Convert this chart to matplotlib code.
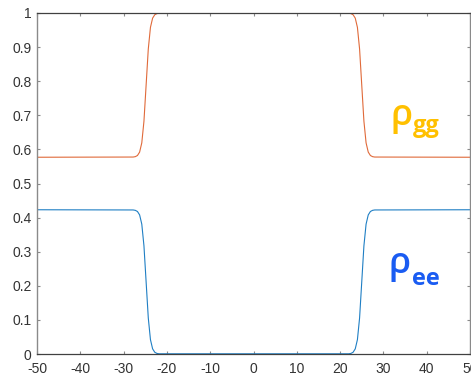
import matplotlib
matplotlib.use("Agg")
import matplotlib.pyplot as plt

# ---- data ----
x_vals = [-50, -27.8, -27.3, -26.8, -26.3, -25.8, -25.3, -24.8, -24.3, -23.8, -23.3, -22.8, -22.3, -21.8,
          22.0, 22.5, 23.0, 23.5, 24.0, 24.5, 25.0, 25.5, 26.0, 26.5, 27.0, 27.5, 28.0, 50]
rho_gg = [0.577, 0.5776, 0.5787, 0.5821, 0.5921, 0.6192, 0.6828, 0.7885, 0.8942, 0.9578, 0.9849, 0.9949, 0.9983, 0.9994,
          0.9994, 0.9983, 0.9949, 0.9849, 0.9578, 0.8942, 0.7885, 0.6828, 0.6192, 0.5921, 0.5821, 0.5787, 0.5776, 0.577]
rho_ee = [0.423, 0.4224, 0.4213, 0.4179, 0.4079, 0.3808, 0.3172, 0.2115, 0.1058, 0.0422, 0.0151, 0.0051, 0.0017, 0.0006,
          0.0006, 0.0017, 0.0051, 0.0151, 0.0422, 0.1058, 0.2115, 0.3172, 0.3808, 0.4079, 0.4179, 0.4213, 0.4224, 0.423]
x_ticks = [-50, -40, -30, -20, -10, 0, 10, 20, 30, 40, 50]
y_ticks = [0, 0.1, 0.2, 0.3, 0.4, 0.5, 0.6, 0.7, 0.8, 0.9, 1]
y_tick_labels = ["0", "0.1", "0.2", "0.3", "0.4", "0.5", "0.6", "0.7", "0.8", "0.9", "1"]

plt.rcParams['font.family'] = ['Liberation Sans', 'DejaVu Sans']

fig = plt.figure(figsize=(4.71, 3.75), dpi=100)
ax = fig.add_axes([37/471, 21/375, 433/471, 341/375])

ax.plot(x_vals, rho_ee, color='#1f7fc4', lw=0.8)
ax.plot(x_vals, rho_gg, color='#e06a3a', lw=0.8)

ax.set_xlim(-50, 50)
ax.set_ylim(0, 1)
ax.set_xticks(x_ticks)
ax.set_xticklabels([str(v) for v in x_ticks])
ax.set_yticks(y_ticks)
ax.set_yticklabels(y_tick_labels)

ax.tick_params(direction='in', length=2.5, width=0.8, colors='#8a8a8a',
               labelcolor='#333333', labelsize=10, top=True, right=True)
ax.tick_params(axis='x', pad=5.5)
ax.tick_params(axis='y', pad=4)
for side in ['top', 'bottom']:
    ax.spines[side].set_color('#404040')
    ax.spines[side].set_linewidth(0.9)
for side in ['left', 'right']:
    ax.spines[side].set_color('#8a8a8a')
    ax.spines[side].set_linewidth(1.0)

# labels
lab_font = ['Open Sans', 'DejaVu Sans']
ax.text(31.6, 0.672, 'ρ', fontsize=26, fontweight='semibold', color='#FFC000', family=lab_font, va='baseline')
ax.text(36.8, 0.651, 'gg', fontsize=17, fontweight='bold', color='#FFC000', family=lab_font, va='baseline')
ax.text(31.1, 0.238, 'ρ', fontsize=26, fontweight='semibold', color='#1A5CF2', family=lab_font, va='baseline')
ax.text(36.7, 0.202, 'ee', fontsize=17, fontweight='bold', color='#1A5CF2', family=lab_font, va='baseline')

fig.savefig('out.png', dpi=100)
